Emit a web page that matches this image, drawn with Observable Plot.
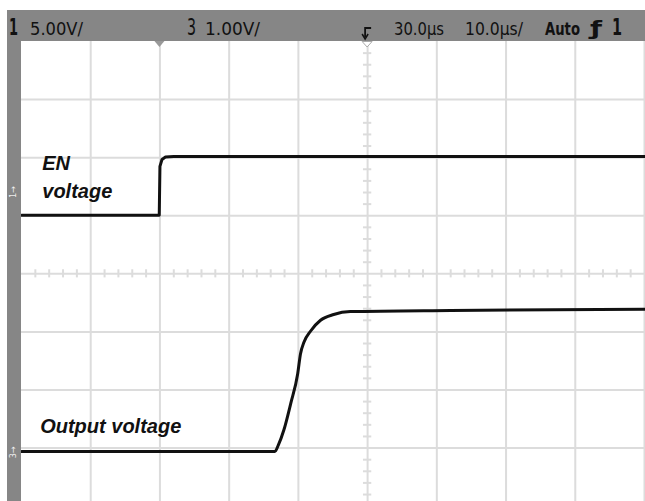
<!DOCTYPE html>
<html><head><meta charset="utf-8">
<script src="https://cdn.jsdelivr.net/npm/d3@7"></script>
<script src="https://cdn.jsdelivr.net/npm/@observablehq/plot@0.6"></script>
<style>body{margin:0;background:#fff;} #chart svg{display:block;}</style>
</head><body><div id="chart"></div>
<script>
// time in µs relative to screen centre (10 µs/div), level in screen divisions
const enTime  = [-50, -30.1, -30.0, -29.7, -29.2, -28.0, 40];
const enLevel = [1.01, 1.01, 1.85, 1.97, 2.01, 2.02, 2.02];
const outTime  = [-50, -13.4, -12.9, -12.1, -11.1, -10.1, -9.7, -9.2, -8.2, -6.8, -4.9, -2.5, 12, 40];
const outLevel = [-3.06, -3.06, -2.95, -2.69, -2.23, -1.72, -1.38, -1.18, -0.98, -0.80, -0.70, -0.65, -0.63, -0.61];
const gridTimes = [-40, -30, -20, -10, 0, 10, 20, 30, 40];
const gridLevels = [-3, -2, -1, 0, 1, 2, 3];
const minorTimes = d3.range(-50, 41, 2).filter(t => t % 10 !== 0);
const minorLevels = d3.range(-19, 20).map(d => d / 5).filter(d => Math.abs(d % 1) > 0.01);
const labelLines = ["EN", "voltage", "Output voltage"];
const headerTexts = ["5.00V/", "1.00V/", "30.0µs", "10.0µs/", "Auto"];

const en = enTime.map((t, i) => ({t, v: enLevel[i]}));
const out = outTime.map((t, i) => ({t, v: outLevel[i]}));

const gridColor = "#dcdcdc";
const lblFont = {textAnchor: "start", fontSize: 20, fontWeight: "bold", fontStyle: "italic", fontFamily: "Liberation Sans, Arial, sans-serif", fill: "#111"};
const chart = Plot.plot({
  width: 645, height: 501,
  marginLeft: 21, marginRight: 1, marginTop: 41, marginBottom: 0,
  x: {domain: [-50, 40], axis: null},
  y: {domain: [-3.92, 4], axis: null},
  marks: [
    Plot.ruleX(gridTimes, {stroke: gridColor, strokeWidth: 2}),
    Plot.ruleY(gridLevels, {stroke: gridColor, strokeWidth: 2}),
    Plot.ruleX(minorTimes, {x: d => d, y1: -0.07, y2: 0.07, stroke: gridColor, strokeWidth: 2}),
    Plot.ruleY(minorLevels, {y: d => d, x1: -0.6, x2: 0.6, stroke: gridColor, strokeWidth: 2}),
    Plot.line(en, {x: "t", y: "v", stroke: "#111", strokeWidth: 3, curve: "linear"}),
    Plot.line(out, {x: "t", y: "v", stroke: "#111", strokeWidth: 3, curve: "monotone-x"}),
    Plot.text([labelLines[0]], {x: -47, y: 1.9, text: d => d, ...lblFont}),
    Plot.text([labelLines[1]], {x: -47, y: 1.42, text: d => d, ...lblFont}),
    Plot.text([labelLines[2]], {x: -47.3, y: -2.63, text: d => d, ...lblFont})
  ]
});
document.getElementById("chart").append(chart);

const svg = d3.select(chart);
const x = chart.scale("x"), y = chart.scale("y");
const gray = "#868686";
const g = svg.append("g").attr("text-anchor", "start");
g.append("rect").attr("x", 7).attr("y", 10).attr("width", 638).attr("height", 31).attr("fill", gray);
g.append("rect").attr("x", 7).attr("y", 10).attr("width", 14).attr("height", 491).attr("fill", gray);
const font = "'Liberation Sans Narrow', 'DejaVu Sans Condensed', 'Liberation Sans', sans-serif";
function txt(xp, s, size, weight, len) {
  const t = g.append("text").attr("x", xp).attr("y", 35).attr("text-anchor", "start").attr("font-family", font)
    .attr("font-size", size).attr("font-weight", weight || "normal").attr("fill", "#111").text(s);
  if (len) t.attr("textLength", len).attr("lengthAdjust", "spacingAndGlyphs");
}
txt(9, "1", 23, "bold", 9);
txt(30, headerTexts[0], 17, "normal", 53);
txt(187, "3", 23, "normal", 9);
txt(205, headerTexts[1], 17, "normal", 55);
txt(394, headerTexts[2], 17, "normal", 50);
txt(465, headerTexts[3], 17, "normal", 58);
txt(545, headerTexts[4], 17, "bold", 35);
txt(590, "ƒ", 20, "bold", 12);
txt(612, "1", 23, "bold", 10);
// trigger symbol
const tx = x.apply(0);
g.append("path").attr("d", `M${tx-2},37 L${tx-2},28 L${tx+4},28`).attr("fill", "none").attr("stroke", "#111").attr("stroke-width", 1.8);
g.append("path").attr("d", `M${tx-5},34 L${tx-2},39 L${tx+1},34`).attr("fill", "none").attr("stroke", "#111").attr("stroke-width", 1.5);
// top markers
const mx = x.apply(-30);
g.append("path").attr("d", `M${mx-5},41 L${mx+5},41 L${mx},47 Z`).attr("fill", "#999");
g.append("path").attr("d", `M${tx-5},41.5 L${tx+5},41.5 L${tx},47 Z`).attr("fill", "#fff").attr("stroke", "#aaa").attr("stroke-width", 1);
// left ground markers
function gnd(yp, ch) {
  g.append("text").attr("transform", `translate(16,${yp}) rotate(-90)`).attr("text-anchor", "middle")
    .attr("font-family", font).attr("font-size", 9).attr("fill", "#eee").text(ch + "→");
}
gnd(y.apply(1.4), "1");
gnd(y.apply(-3.08), "3");
</script></body></html>
